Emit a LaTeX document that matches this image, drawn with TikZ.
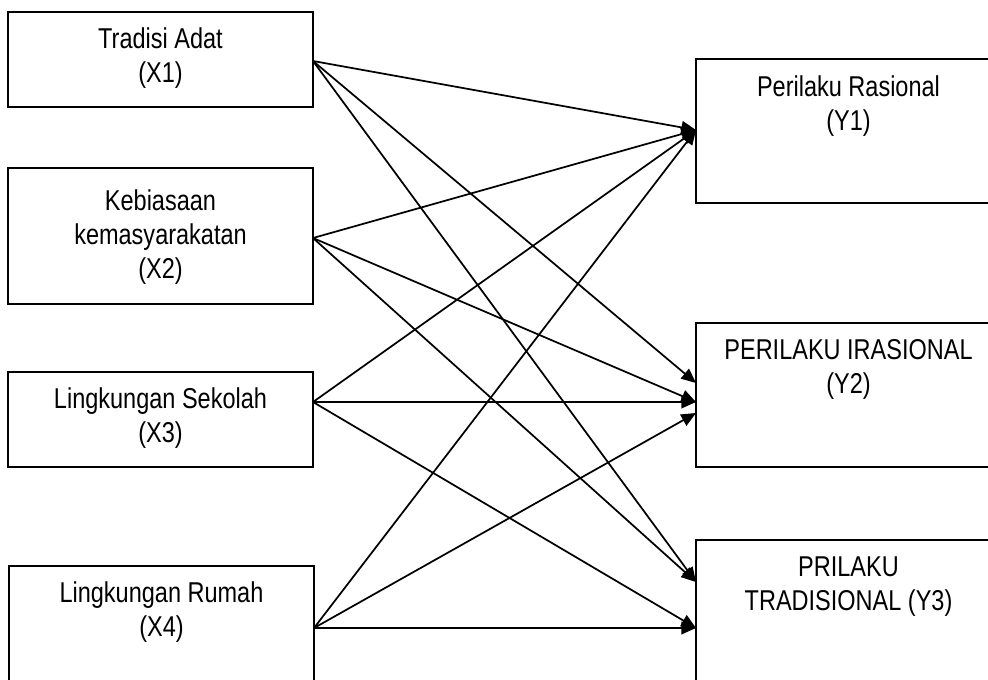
\documentclass[tikz,border=0pt]{standalone}
\usepackage{fontspec}
\setmainfont{Liberation Sans}[FakeStretch=0.82]
\usetikzlibrary{arrows.meta, positioning}

\begin{document}
\begin{tikzpicture}[x=0.75pt, y=-0.75pt,
      varbox/.style={rectangle, draw=black, line width=1.2pt, minimum width=228.75pt, minimum height=71.25pt, inner sep=0pt},
      vartext/.style={align=center, inner sep=0pt, font=\fontsize{21.5}{25.5}\selectfont},
      link/.style={line width=1.3pt, -{Triangle[length=11pt, width=9.5pt]}},
      ]
      \useasboundingbox (0,0) rectangle (988,679);

      %Nodes
      \node[varbox]                        (x1) at (160.5,59.5)  {};
      \node[varbox, minimum height=102pt]  (x2) at (160.5,236)   {};
      \node[varbox]                        (x3) at (160.5,419.5) {};
      \node[varbox, minimum height=105pt]  (x4) at (161.5,636)   {};

      \node[varbox, minimum height=108pt]  (y1) at (848.5,131)   {};
      \node[varbox, minimum height=108pt]  (y2) at (848.5,395)   {};
      \node[varbox, minimum height=108pt]  (y3) at (848.5,612)   {};

      %Texts
      \node[vartext, below=12pt of x1.north]   {Tradisi Adat\\(X1)};
      \node[vartext, below=16.5pt of x2.north] {Kebiasaan\\kemasyarakatan\\(X2)};
      \node[vartext, below=12pt of x3.north]   {Lingkungan Sekolah\\(X3)};
      \node[vartext, below=12.5pt of x4.north] {Lingkungan Rumah\\(X4)};
      \node[vartext, below=13pt of y1.north]   {Perilaku Rasional\\(Y1)};
      \node[vartext, below=12.5pt of y2.north] {PERILAKU IRASIONAL\\(Y2)};
      \node[vartext, below=13pt of y3.north]   {PRILAKU\\TRADISIONAL (Y3)};

      %Ports
      \coordinate (x1o) at (313,61);
      \coordinate (x2o) at (313,238);
      \coordinate (x3o) at (313,402);
      \coordinate (x4o) at (314,628);
      \coordinate (y1i)  at (696,130);
      \coordinate (y2ia) at (696,383);
      \coordinate (y2ib) at (696,402);
      \coordinate (y2ic) at (696,413);
      \coordinate (y3ia) at (696,582);
      \coordinate (y3ib) at (696,628);

      %Lines
      \draw[link] (x1o) -- (y1i);
      \draw[link] (x1o) -- (y2ia);
      \draw[link] (x1o) -- (y3ia);
      \draw[link] (x2o) -- (y1i);
      \draw[link] (x2o) -- (y2ib);
      \draw[link] (x2o) -- (y3ia);
      \draw[link] (x3o) -- (y1i);
      \draw[link] (x3o) -- (y2ib);
      \draw[link] (x3o) -- (y3ib);
      \draw[link] (x4o) -- (y1i);
      \draw[link] (x4o) -- (y2ic);
      \draw[link] (x4o) -- (y3ib);
\end{tikzpicture}
\end{document}
